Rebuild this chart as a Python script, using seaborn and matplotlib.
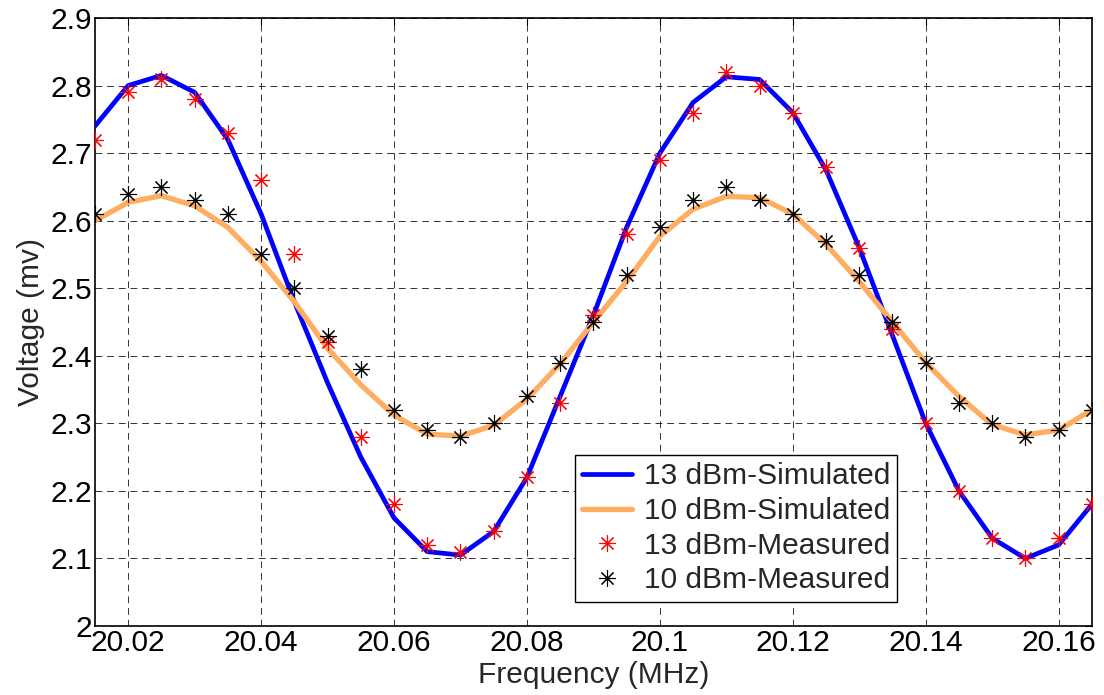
import numpy as np
import pandas as pd
import matplotlib
matplotlib.use("Agg")
import matplotlib.pyplot as plt
import seaborn as sns

freq = [20.015, 20.02, 20.025, 20.03, 20.035, 20.04, 20.045, 20.05, 20.055, 20.06,
        20.065, 20.07, 20.075, 20.08, 20.085, 20.09, 20.095, 20.1, 20.105, 20.11,
        20.115, 20.12, 20.125, 20.13, 20.135, 20.14, 20.145, 20.15, 20.155, 20.16, 20.165]

sim13 = [2.74, 2.80, 2.815, 2.79, 2.72, 2.61, 2.48, 2.36, 2.25, 2.16,
         2.11, 2.105, 2.14, 2.22, 2.34, 2.46, 2.59, 2.70, 2.775, 2.813,
         2.809, 2.76, 2.675, 2.56, 2.43, 2.30, 2.20, 2.13, 2.10, 2.12, 2.18]

sim10 = [2.60, 2.627, 2.637, 2.622, 2.59, 2.54, 2.48, 2.411, 2.357, 2.312,
         2.284, 2.281, 2.297, 2.336, 2.388, 2.45, 2.51, 2.577, 2.617, 2.636,
         2.634, 2.61, 2.565, 2.51, 2.45, 2.39, 2.34, 2.298, 2.283, 2.29, 2.32]

meas13 = [2.72, 2.79, 2.81, 2.78, 2.73, 2.66, 2.55, 2.42, 2.28, 2.18,
          2.12, 2.11, 2.14, 2.22, 2.33, 2.46, 2.58, 2.69, 2.76, 2.82,
          2.80, 2.76, 2.68, 2.56, 2.44, 2.30, 2.20, 2.13, 2.10, 2.13, 2.18]

meas10 = [2.61, 2.64, 2.65, 2.63, 2.61, 2.55, 2.50, 2.43, 2.38, 2.32,
          2.29, 2.28, 2.30, 2.34, 2.39, 2.45, 2.52, 2.59, 2.63, 2.65,
          2.63, 2.61, 2.57, 2.52, 2.45, 2.39, 2.33, 2.30, 2.28, 2.29, 2.32]

xticks = [20.02, 20.04, 20.06, 20.08, 20.1, 20.12, 20.14, 20.16]
xticklabels = ["20.02", "20.04", "20.06", "20.08", "20.1", "20.12", "20.14", "20.16"]
yticks = [2.0, 2.1, 2.2, 2.3, 2.4, 2.5, 2.6, 2.7, 2.8, 2.9]
yticklabels = ["2", "2.1", "2.2", "2.3", "2.4", "2.5", "2.6", "2.7", "2.8", "2.9"]

df = pd.DataFrame({"freq": freq, "sim13": sim13, "sim10": sim10,
                   "meas13": meas13, "meas10": meas10})

sns.set_style("white")
plt.rcParams["font.family"] = ["Liberation Sans", "DejaVu Sans"]

fig = plt.figure(figsize=(11.04, 6.95), dpi=100)
ax = fig.add_axes([0.086, 0.0993, 0.903, 0.8748])

asterisk = (8, 2, 0)
sns.lineplot(data=df, x="freq", y="sim13", ax=ax, color="#0000ff", lw=3.4,
             label="13 dBm-Simulated", sort=False, estimator=None, zorder=3)
sns.lineplot(data=df, x="freq", y="sim10", ax=ax, color="#ffad60", lw=3.8,
             label="10 dBm-Simulated", sort=False, estimator=None, zorder=3)
sns.lineplot(data=df, x="freq", y="meas13", ax=ax, color="#ff0000", linestyle="none",
             marker=asterisk, markersize=12, markeredgewidth=0.8,
             markeredgecolor="#ff0000", markerfacecolor="#ff0000",
             label="13 dBm-Measured", sort=False, estimator=None, zorder=4)
sns.lineplot(data=df, x="freq", y="meas10", ax=ax, color="black", linestyle="none",
             marker=asterisk, markersize=12, markeredgewidth=0.8,
             markeredgecolor="black", markerfacecolor="black",
             label="10 dBm-Measured", sort=False, estimator=None, zorder=4)

ax.set_xlim(20.015, 20.165)
ax.set_ylim(2.0, 2.9)
ax.set_xticks(xticks)
ax.set_xticklabels(xticklabels)
ax.set_yticks(yticks)
ax.set_yticklabels(yticklabels)
ax.tick_params(direction="in", top=True, right=True, length=5, width=0.8,
               labelsize=21.5, colors="black", pad=2)
ax.grid(True, color="black", linestyle=(0, (7, 5)), linewidth=0.7, alpha=0.8)
ax.set_axisbelow(True)
for s in ax.spines.values():
    s.set_color("black")
    s.set_linewidth(1.2)

ax.set_xlabel("Frequency (MHz)", fontsize=21.5, labelpad=3)
ax.set_ylabel("Voltage (mv)", fontsize=21.5, labelpad=4)

leg = ax.legend(loc="lower right", bbox_to_anchor=(0.805, 0.04), borderaxespad=0,
                fontsize=21.5, frameon=True, fancybox=False, handlelength=1.65,
                handletextpad=0.4, labelspacing=0.22, borderpad=0.25)
leg.get_frame().set_edgecolor("black")
leg.get_frame().set_linewidth(1.0)
leg.get_frame().set_alpha(1)

fig.savefig("out.png", dpi=100)
